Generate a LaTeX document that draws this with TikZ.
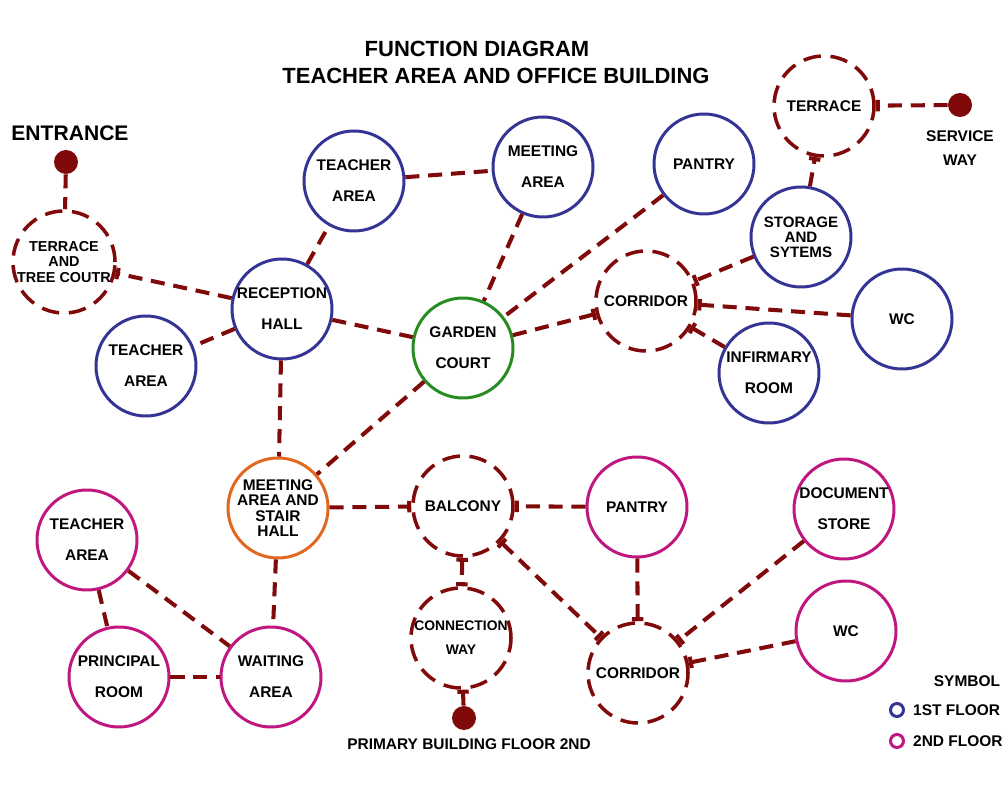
\documentclass[tikz,border=0pt]{standalone}
\usepackage{fontspec}
\setmainfont{Liberation Sans}
\usepackage{tikz}
\usetikzlibrary{arrows.meta}
\definecolor{linkred}{RGB}{128,10,10}
\definecolor{floorblue}{RGB}{52,52,148}
\definecolor{floorpink}{RGB}{192,22,128}
\definecolor{courtgreen}{RGB}{38,140,34}
\definecolor{hallorange}{RGB}{226,104,32}
\tikzset{
    % 房间圆圈
    room/.style={
        circle,
        inner sep=0pt,
        minimum size=2cm,
        line width=1.7pt,
        align=center,
        font=\fontsize{8.8}{17.6}\selectfont\bfseries
    },
    firstfloor/.style={room, draw=floorblue},
    secondfloor/.style={room, draw=floorpink},
    openroom/.style={room, draw=linkred, line width=2pt, dash pattern=on 10pt off 5.5pt},
    tightlines/.style={font=\fontsize{8.8}{8.8}\selectfont\bfseries},
    gate/.style={circle, inner sep=0pt, minimum size=4.8mm, fill=linkred},
    plaintext/.style={font=\fontsize{8.8}{13.6}\selectfont\bfseries, align=center},
    % 连线
    redlink/.style={
        line width=2.3pt,
        linkred,
        dash pattern=on 8pt off 5pt
    },
    tee/.style={-{Bar[width=6.5pt]}},
    teeboth/.style={{Bar[width=6.5pt]}-{Bar[width=6.5pt]}}
}
\begin{document}
\begin{tikzpicture}[x=0.2mm, y=-0.2mm]
    \useasboundingbox (0,0) rectangle (1004,801);
    % ===================== title =====================
    \node[font=\fontsize{12.5}{15}\selectfont\bfseries] (titleA) at (477,49) {FUNCTION DIAGRAM};
    \node[font=\fontsize{12.5}{15}\selectfont\bfseries] (titleB) at (496,76) {TEACHER AREA AND OFFICE BUILDING};

    % ===================== 1st floor =====================
    \node[gate] (entrance) at (66,162) {};
    \node[font=\fontsize{12}{14}\selectfont\bfseries] (entrancetxt) at (70,133) {ENTRANCE};
    \node[openroom, font=\fontsize{8.2}{8.8}\selectfont\bfseries] (terrtree) at (64,262) {TERRACE\\AND\\TREE COUTR};
    \node[firstfloor] (recep) at (282,309) {RECEPTION\\HALL};
    \node[firstfloor] (teachA) at (146,366) {TEACHER\\AREA};
    \node[firstfloor] (teachB) at (354,181) {TEACHER\\AREA};
    \node[firstfloor] (meetA) at (543,167) {MEETING\\AREA};
    \node[room, draw=courtgreen] (garden) at (463,348) {GARDEN\\COURT};
    \node[firstfloor] (pantryA) at (704,164) {PANTRY};
    \node[openroom] (terrA) at (824,106) {TERRACE};
    \node[gate] (service) at (960,105) {};
    \node[plaintext] (servicetxt) at (960,148) {SERVICE\\WAY};
    \node[firstfloor, font=\fontsize{8.6}{8.5}\selectfont\bfseries] (storage) at (801,237) {STORAGE\\AND\\SYTEMS};
    \node[openroom] (corrA) at (646,301) {CORRIDOR};
    \node[firstfloor] (wcA) at (902,319) {WC};
    \node[firstfloor] (infirm) at (769,373) {INFIRMARY\\ROOM};

    % ===================== 2nd floor =====================
    \node[room, draw=hallorange, tightlines] (stair) at (278,508) {MEETING\\AREA AND\\STAIR\\HALL};
    \node[openroom] (balcony) at (463,506) {BALCONY};
    \node[secondfloor] (pantryB) at (637,507) {PANTRY};
    \node[secondfloor] (docstore) at (844,509) {DOCUMENT\\STORE};
    \node[secondfloor] (teachC) at (87,540) {TEACHER\\AREA};
    \node[secondfloor] (principal) at (119,677) {PRINCIPAL\\ROOM};
    \node[secondfloor] (waiting) at (271,677) {WAITING\\AREA};
    \node[openroom, font=\fontsize{7.9}{13.6}\selectfont\bfseries] (connect) at (461,638) {CONNECTION\\WAY};
    \node[gate] (primary) at (464,718) {};
    \node[plaintext] (primarytxt) at (469,744) {PRIMARY BUILDING FLOOR 2ND};
    \node[openroom] (corrB) at (638,673) {CORRIDOR};
    \node[secondfloor] (wcB) at (846,631) {WC};

    % links
    \draw[redlink] (entrance) -- (terrtree);
    \draw[redlink, tee] (recep) -- (terrtree);
    \draw[redlink] (recep) -- (teachA);
    \draw[redlink] (recep) -- (teachB);
    \draw[redlink] (teachB) -- (meetA);
    \draw[redlink] (recep) -- (garden);
    \draw[redlink] (meetA) -- (garden);
    \draw[redlink] (pantryA) -- (garden);
    \draw[redlink, tee] (garden) -- (corrA);
    \draw[redlink, tee] (storage) -- (corrA);
    \draw[redlink, tee] (wcA) -- (corrA);
    \draw[redlink, tee] (infirm) -- (corrA);
    \draw[redlink, tee] (storage) -- (terrA);
    \draw[redlink, tee] (service) -- (terrA);
    \draw[redlink] (recep) -- (stair);
    \draw[redlink] (garden) -- (stair);
    \draw[redlink, tee] (stair) -- (balcony);
    \draw[redlink] (stair) -- (waiting);
    \draw[redlink, tee] (pantryB) -- (balcony);
    \draw[redlink, teeboth] (balcony) -- (connect);
    \draw[redlink, teeboth] (balcony) -- (corrB);
    \draw[redlink, tee] (primary) -- (connect);
    \draw[redlink, tee] (pantryB) -- (corrB);
    \draw[redlink, tee] (docstore) -- (corrB);
    \draw[redlink, tee] (wcB) -- (corrB);
    \draw[redlink] (teachC) -- (principal);
    \draw[redlink] (teachC) -- (waiting);
    \draw[redlink] (principal) -- (waiting);

    % ===================== symbol =====================
    \node[plaintext] (symbol) at (967,681) {SYMBOL};
    \node[circle, inner sep=0pt, minimum size=2.6mm, line width=1.7pt, draw=floorblue] (keyA) at (897,710) {};
    \node[plaintext, anchor=west] (keyAtxt) at (907,710) {1ST FLOOR};
    \node[circle, inner sep=0pt, minimum size=2.6mm, line width=1.7pt, draw=floorpink] (keyB) at (897,741) {};
    \node[plaintext, anchor=west] (keyBtxt) at (907,741) {2ND FLOOR};
\end{tikzpicture}
\end{document}
